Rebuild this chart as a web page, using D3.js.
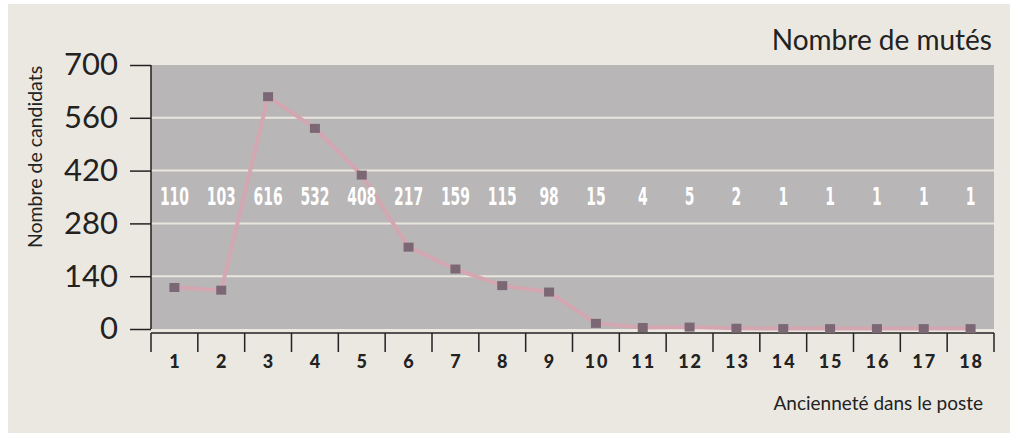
<!DOCTYPE html>
<html><head><meta charset="utf-8">
<script src="https://cdn.jsdelivr.net/npm/d3@7"></script>
<style>
html,body{margin:0;padding:0;background:#fff;}
svg{display:block;}
</style>
</head><body>
<svg id="chart" width="1012" height="433"></svg>
<script>
const categories = ["1","2","3","4","5","6","7","8","9","10","11","12","13","14","15","16","17","18"];
const values = [110,103,616,532,408,217,159,115,98,15,4,5,2,1,1,1,1,1];
const yTicks = [0,140,280,420,560,700];
const title = "Nombre de mutés";
const yTitle = "Nombre de candidats";
const xTitle = "Ancienneté dans le poste";

(function(){
const svg = d3.select("#chart");
const pL = 151, pR = 994, pT = 65, pB = 329;

svg.append("rect").attr("x",8).attr("y",4).attr("width",1002).attr("height",429).attr("fill","#ebe8e1");

const x = d3.scaleBand().domain(categories).range([pL,pR]).padding(0);
const y = d3.scaleLinear().domain([0,700]).range([pB,pT]);

// plot background
svg.append("rect").attr("x",pL).attr("y",pT).attr("width",pR-pL).attr("height",pB-pT).attr("fill","#b8b6b7");

// gridlines
svg.append("g").selectAll("line").data(yTicks.filter(d=>d>0&&d<700)).join("line")
  .attr("x1",pL).attr("x2",pR).attr("y1",d=>y(d)).attr("y2",d=>y(d))
  .attr("stroke","#e9e6de").attr("stroke-width",2);

// y axis
const yAxis = svg.append("g").attr("transform",`translate(${pL},0)`)
  .call(d3.axisLeft(y).tickValues(yTicks).tickSize(21).tickPadding(12));
yAxis.select(".domain").attr("stroke","#222").attr("stroke-width",1.5).attr("d",`M0,${pT}V${pB}`);
yAxis.selectAll(".tick line").attr("stroke","#222").attr("stroke-width",1.5);
yAxis.selectAll(".tick text").attr("fill","#222").attr("font-family","Lato, 'Open Sans', sans-serif")
  .attr("font-weight",400).attr("font-size",31);

// x axis
const xAxisY = 333;
const xg = svg.append("g").attr("transform",`translate(0,${xAxisY})`);
xg.append("line").attr("x1",pL).attr("x2",pR).attr("y1",0).attr("y2",0).attr("stroke","#222").attr("stroke-width",1.5);
const bounds = categories.map(c=>x(c)).concat([pR]);
xg.selectAll("line.t").data(bounds).join("line").attr("class","t")
  .attr("x1",d=>d).attr("x2",d=>d).attr("y1",0).attr("y2",19).attr("stroke","#222").attr("stroke-width",1.5);
xg.selectAll("text").data(categories).join("text")
  .attr("x",d=>x(d)+x.bandwidth()/2+1).attr("y",35)
  .attr("text-anchor","middle").attr("fill","#222")
  .attr("font-family","Lato, 'Open Sans', sans-serif").attr("font-weight",900).attr("font-size",18)
  .attr("letter-spacing",2)
  .text(d=>d);

// line
const line = d3.line().x((d,i)=>x(categories[i])+x.bandwidth()/2).y(d=>y(d));
svg.append("path").datum(values).attr("d",line).attr("fill","none")
  .attr("stroke","#d4a6b1").attr("stroke-width",4).attr("stroke-linejoin","round");

// markers
svg.append("g").selectAll("rect").data(values).join("rect")
  .attr("x",(d,i)=>x(categories[i])+x.bandwidth()/2-5).attr("y",d=>y(d)-4.5)
  .attr("width",10).attr("height",9).attr("fill","#7b6874");

// value labels (condensed)
svg.append("g").selectAll("text").data(values).join("text")
  .attr("transform",(d,i)=>`translate(${x(categories[i])+x.bandwidth()/2},205) scale(0.58,1)`)
  .attr("text-anchor","middle").attr("fill","#ffffff")
  .attr("font-family","'DejaVu Sans',sans-serif")
  .attr("font-weight",700).attr("font-size",24)
  .text(d=>d);

// titles
svg.append("text").attr("x",992).attr("y",50).attr("text-anchor","end")
  .attr("font-family","Lato, 'Open Sans', sans-serif").attr("font-weight",400).attr("font-size",28)
  .attr("fill","#222").text(title);
svg.append("text").attr("transform",`translate(42,157) rotate(-90)`).attr("text-anchor","middle")
  .attr("font-family","Lato, 'Open Sans', sans-serif").attr("font-weight",400).attr("font-size",19.5)
  .attr("fill","#222").text(yTitle);
svg.append("text").attr("x",983).attr("y",410).attr("text-anchor","end")
  .attr("font-family","Lato, 'Open Sans', sans-serif").attr("font-weight",400).attr("font-size",19)
  .attr("fill","#222").text(xTitle);
})();
</script>
</body></html>
